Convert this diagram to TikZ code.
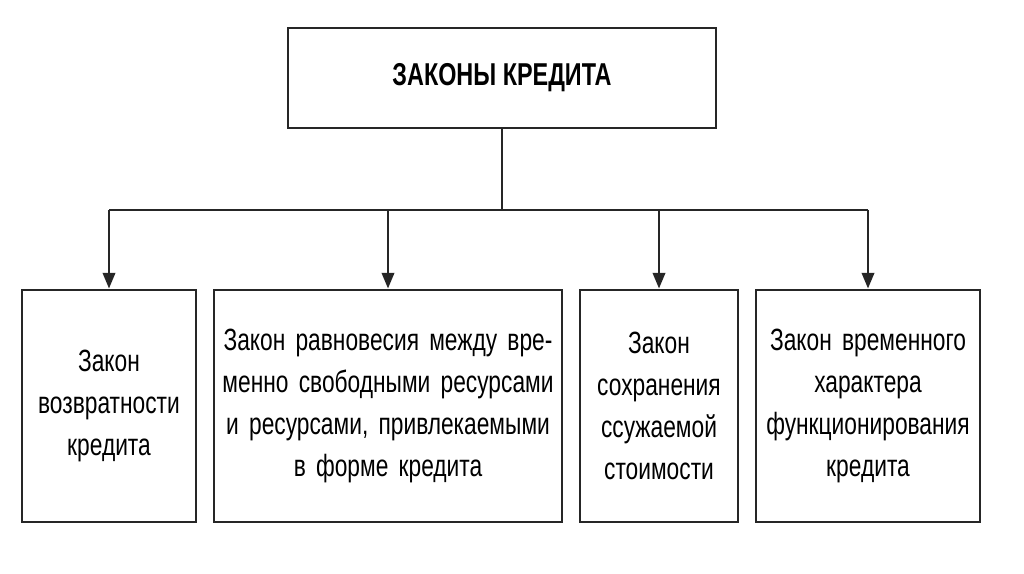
\documentclass[tikz,border=0pt]{standalone}
\usepackage{fontspec}
\setmainfont{Liberation Sans}[FakeStretch=0.74]
\usetikzlibrary{arrows.meta}

\begin{document}
\begin{tikzpicture}[x=0.02cm,y=-0.02cm,
        law/.style={draw=black!85, line width=1.6pt, inner sep=0pt, align=center, font={\fontsize{17.5}{24}\selectfont}},
        link/.style={black!85, line width=1.6pt},
        arr/.style={link, -{Triangle[length=9pt,width=7pt]}}]
    \useasboundingbox (0,0) rectangle (1024,574);
    \node[law, minimum width=8.56cm, minimum height=2cm, font={\fontsize{18}{23}\selectfont\bfseries}] (main) at (502,78) {ЗАКОНЫ КРЕДИТА};
    \node[law, text width=3.3cm, minimum width=3.48cm, minimum height=4.64cm] (ret) at (109,406) {Закон\\возвратности\\кредита};
    \node[law, text width=6.8cm, minimum width=6.96cm, minimum height=4.64cm] (eq) at (388,406) {Закон равновесия между вре-\\менно свободными ресурсами\\и ресурсами, привлекаемыми\\в форме кредита};
    \node[law, text width=3cm, minimum width=3.16cm, minimum height=4.64cm] (keep) at (659,406) {Закон\\сохранения\\ссужаемой\\стоимости};
    \node[law, text width=4.3cm, minimum width=4.48cm, minimum height=4.64cm] (temp) at (868,406) {Закон временного\\характера\\функционирования\\кредита};
    \coordinate (bus) at (502,210);
    \draw[link] (main.south) -- (bus);
    \draw[link] (ret.north |- bus) -- (temp.north |- bus);
    \foreach \n in {ret,eq,keep,temp}
        \draw[arr] (\n.north |- bus) -- (\n.north);
\end{tikzpicture}
\end{document}
